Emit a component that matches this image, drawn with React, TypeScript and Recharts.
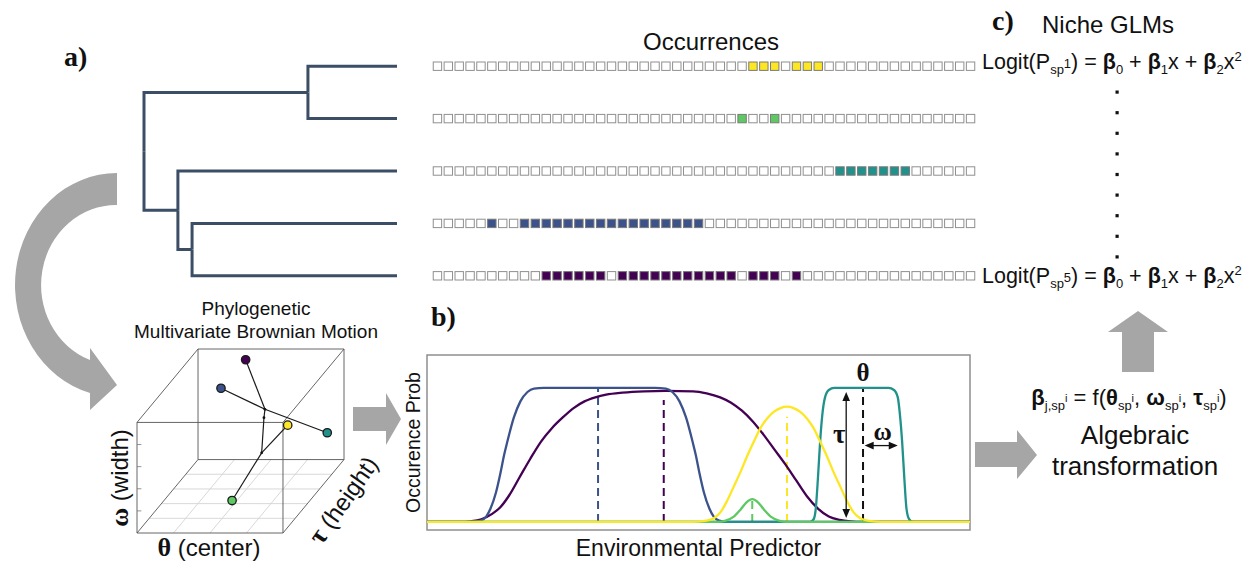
import React from 'react'
import {
  ComposedChart, LineChart, ScatterChart, Line, Scatter, XAxis, YAxis,
  ReferenceLine, ReferenceArea, ReferenceDot
} from 'recharts'

const SANS = '"Liberation Sans", Arial, Helvetica, sans-serif'
const SERIF = '"Liberation Serif", "Times New Roman", serif'
const GREY = '#a6a6a6'
const INK = '#111'

// species top to bottom (viridis)
const spColors = ['#fde725', '#5ec962', '#21918c', '#3b528b', '#440154']

// occupied bins (0..49) along the environmental gradient
const N_BINS = 50
const occ1 = [29, 30, 31, 33, 34, 35]
const occ2 = [28, 31]
const occ3 = [37, 38, 39, 40, 41, 42, 43]
const occ4 = [5, 8, 9, 10, 11, 12, 13, 14, 15, 16, 17, 18, 19, 20, 21, 22, 23, 24]
const occ5 = [10, 11, 12, 13, 14, 15, 17, 18, 19, 20, 21, 22, 23, 24, 25, 26, 27, 29, 30, 31, 33]
const occurrences = [occ1, occ2, occ3, occ4, occ5]

// phylogeny: node depth (0 root .. 1 tips), tips on rows 1..5
const nodeDepth: Record<string, number> = { root: 0, n1: 0.648, n2: 0.134, n3: 0.19, sp1: 1, sp2: 1, sp3: 1, sp4: 1, sp5: 1 }
const tipRow: Record<string, number> = { sp1: 1, sp2: 2, sp3: 3, sp4: 4, sp5: 5 }
const treeEdges: [string, string][] = [
  ['root', 'n1'], ['root', 'n2'], ['n1', 'sp1'], ['n1', 'sp2'],
  ['n2', 'sp3'], ['n2', 'n3'], ['n3', 'sp4'], ['n3', 'sp5'],
]

// niche curves: [predictor, occurrence prob]
const curvePurple = [[0, 0], [6, 0], [8, 0.005], [10, 0.02], [12, 0.06], [13.5, 0.11], [15, 0.19], [17, 0.33], [19, 0.47], [21, 0.6], [23, 0.7], [25, 0.78], [27, 0.85], [29, 0.9], [31, 0.93], [33, 0.95], [36, 0.965], [40, 0.975], [44, 0.978], [49, 0.975], [51.5, 0.96], [54, 0.93], [56, 0.89], [58, 0.83], [60, 0.75], [62, 0.65], [64, 0.54], [66, 0.43], [68, 0.31], [70, 0.19], [72, 0.1], [74, 0.04], [76, 0.015], [78, 0.004], [80, 0], [100, 0]]
const curveBlue = [[0, 0], [8.2, 0], [9.9, 0.01], [10.9, 0.04], [11.7, 0.1], [12.7, 0.22], [13.5, 0.36], [14.2, 0.5], [14.8, 0.6], [16, 0.78], [17.2, 0.9], [18.5, 0.97], [19.7, 0.995], [21.5, 1], [31.5, 1], [42, 1], [44, 0.995], [45.2, 0.97], [46.5, 0.9], [47.7, 0.78], [48.9, 0.6], [49.5, 0.5], [50.2, 0.36], [51, 0.22], [52, 0.1], [52.8, 0.04], [53.8, 0.01], [55.5, 0], [100, 0]]
const curveTeal = [[0, 0], [70.5, 0], [71.2, 0.02], [71.6, 0.1], [72, 0.33], [72.4, 0.6], [72.8, 0.8], [73.3, 0.93], [74, 0.985], [75, 1], [85, 1], [86, 0.985], [86.7, 0.93], [87.1, 0.8], [87.5, 0.6], [87.9, 0.33], [88.3, 0.1], [88.8, 0.02], [89.5, 0], [100, 0]]
const curveGreen = [[0, 0], [53.5, 0], [55, 0.01], [56.5, 0.04], [57.7, 0.09], [58.8, 0.145], [59.9, 0.17], [61, 0.145], [62.1, 0.09], [63.3, 0.04], [64.8, 0.01], [66.3, 0], [100, 0]]
const curveYellow = [[0, 0], [48.3, 0], [49.8, 0.002], [51.5, 0.01], [52.9, 0.03], [54.1, 0.075], [55.3, 0.16], [56.45, 0.26], [57.7, 0.37], [58.95, 0.49], [60.2, 0.6], [61.4, 0.7], [62.6, 0.77], [63.8, 0.82], [65.1, 0.85], [66.3, 0.86], [67.5, 0.85], [68.8, 0.82], [70, 0.77], [71.2, 0.7], [72.4, 0.6], [73.65, 0.49], [74.9, 0.37], [76.15, 0.26], [77.3, 0.16], [78.5, 0.075], [79.7, 0.03], [81.1, 0.01], [82.8, 0.002], [84.3, 0], [100, 0]]

// niche centres (theta) and the dashed marker height
const markX = [31.5, 43.6, 59.9, 66.3, 80.3]
const markTop = [1.0, 0.91, 0.17, 0.786, 1.0]
const markColor = ['#3b528b', '#440154', '#5ec962', '#fde725', INK]

// brownian motion in (theta, omega, tau) trait space
const bmTips = [
  { t: 0.907, w: 0.776, h: 0.3, color: '#fde725' },
  { t: 0.484, w: 0.028, h: 0.4, color: '#5ec962' },
  { t: 0.927, w: 0.309, h: 0.9, color: '#21918c' },
  { t: 0.241, w: 0.778, h: 0.8, color: '#3b528b' },
  { t: 0.368, w: 0.969, h: 0.9, color: '#440154' },
]
const bmNodes = [
  { t: 0.584, w: 0.654, h: 0.7 },
  { t: 0.598, w: 0.611, h: 0.65 },
  { t: 0.645, w: 0.393, h: 0.5 },
]
// paths through tips (T#) and nodes (N#)
const bmPaths = [['T4', 'N0'], ['T3', 'N0', 'T2'], ['N0', 'N1', 'N2'], ['N2', 'T0'], ['N2', 'T1']]

const DX = 0.418
const DY = 0.664
const proj = (t: number, w: number, h: number) => ({ x: t + DX * h, y: w + DY * h })

function nodeY(id: string): number {
  if (tipRow[id] !== undefined) return tipRow[id]
  const kids = treeEdges.filter(e => e[0] === id).map(e => nodeY(e[1]))
  return kids.reduce((a, b) => a + b, 0) / kids.length
}

const toPts = (arr: number[][]) => arr.map(([x, p]) => ({ x, p }))

function Arrow2(props: any) {
  const { x1, y1, x2, y2 } = props
  const len = Math.hypot(x2 - x1, y2 - y1) || 1
  const ux = (x2 - x1) / len
  const uy = (y2 - y1) / len
  const hl = 9
  const hw = 3.8
  const head = (x: number, y: number, dx: number, dy: number) =>
    `${x},${y} ${x - dx * hl - dy * hw},${y - dy * hl + dx * hw} ${x - dx * hl + dy * hw},${y - dy * hl - dx * hw}`
  return (
    <g>
      <line x1={x1 + ux * 4} y1={y1 + uy * 4} x2={x2 - ux * 4} y2={y2 - uy * 4} stroke={INK} strokeWidth={1.3} />
      <polygon points={head(x2, y2, ux, uy)} fill={INK} />
      <polygon points={head(x1, y1, -ux, -uy)} fill={INK} />
    </g>
  )
}

function TreeChart() {
  return (
    <LineChart width={273} height={262} margin={{ top: 0, right: 10, bottom: 0, left: 10 }}>
      <XAxis hide type="number" dataKey="x" domain={[0, 1]} />
      <YAxis hide type="number" domain={[0.5, 5.5]} reversed />
      {treeEdges.map(([p, c], i) => (
        <Line
          key={i}
          data={[
            { x: nodeDepth[p], y: nodeY(p) },
            { x: nodeDepth[p], y: nodeY(c) },
            { x: nodeDepth[c], y: nodeY(c) },
          ]}
          dataKey="y"
          type="linear"
          stroke="#3c4e65"
          strokeWidth={3}
          strokeLinejoin="miter"
          dot={false}
          isAnimationActive={false}
        />
      ))}
    </LineChart>
  )
}

function OccurrenceChart() {
  const cells = occurrences.flatMap((occ, r) =>
    Array.from({ length: N_BINS }, (_, i) => ({ bin: i, row: r + 1, on: occ.includes(i), color: spColors[r] }))
  )
  return (
    <ScatterChart width={564} height={262} margin={{ top: 0, right: 10, bottom: 0, left: 10 }}>
      <XAxis hide type="number" dataKey="bin" domain={[-0.5, N_BINS - 0.5]} />
      <YAxis hide type="number" dataKey="row" domain={[0.5, 5.5]} reversed />
      <Scatter
        data={cells}
        isAnimationActive={false}
        shape={(props: any) => {
          const { cx, cy, payload } = props
          const s = 8.4
          return (
            <rect
              x={cx - s / 2} y={cy - s / 2} width={s} height={s}
              fill={payload.on ? payload.color : '#fff'}
              stroke={payload.on ? '#7a7a7a' : '#8f8f8f'}
              strokeWidth={1}
            />
          )
        }}
      />
    </ScatterChart>
  )
}

function CubeChart() {
  const corners = [0, 1]
  const edges: { a: number[]; b: number[] }[] = []
  // 12 cube edges
  corners.forEach(h => {
    edges.push({ a: [0, 0, h], b: [1, 0, h] }, { a: [0, 1, h], b: [1, 1, h] })
    edges.push({ a: [0, 0, h], b: [0, 1, h] }, { a: [1, 0, h], b: [1, 1, h] })
  })
  corners.forEach(t => corners.forEach(w => edges.push({ a: [t, w, 0], b: [t, w, 1] })))
  const floor: { a: number[]; b: number[] }[] = []
  ;[0.25, 0.5, 0.75].forEach(t => floor.push({ a: [t, 0, 0], b: [t, 0, 1] }))
  ;[0.2, 0.4, 0.6, 0.8].forEach(h => floor.push({ a: [0, 0, h], b: [1, 0, h] }))
  const ticks = [0.2, 0.4, 0.6, 0.8].map(w => ({ a: [0, w, 0], b: [0.03, w, 0] }))
  const seg = (e: { a: number[]; b: number[] }) => [proj(e.a[0], e.a[1], e.a[2]), proj(e.b[0], e.b[1], e.b[2])]
  const pick = (k: string) => {
    const src = k[0] === 'T' ? bmTips[+k.slice(1)] : bmNodes[+k.slice(1)]
    return proj(src.t, src.w, src.h)
  }
  const tipPts = bmTips.map(p => ({ ...proj(p.t, p.w, p.h), color: p.color }))
  const nodePts = bmNodes.map(p => proj(p.t, p.w, p.h))
  return (
    <ComposedChart width={227} height={204} margin={{ top: 10, right: 10, bottom: 10, left: 10 }}>
      <XAxis hide type="number" dataKey="x" domain={[0, 1 + DX]} allowDataOverflow />
      <YAxis hide type="number" dataKey="y" domain={[0, 1 + DY]} allowDataOverflow />
      {floor.map((e, i) => (
        <ReferenceLine key={'f' + i} segment={seg(e)} stroke="#d4d4d4" strokeWidth={0.9} ifOverflow="visible" />
      ))}
      {edges.map((e, i) => (
        <ReferenceLine key={'e' + i} segment={seg(e)} stroke="#555" strokeWidth={0.9} ifOverflow="visible" />
      ))}
      {ticks.map((e, i) => (
        <ReferenceLine key={'t' + i} segment={seg(e)} stroke="#777" strokeWidth={0.8} ifOverflow="visible" />
      ))}
      {bmPaths.map((path, i) => (
        <Line
          key={'p' + i}
          data={path.map(pick)}
          dataKey="y"
          type="linear"
          stroke="#1a1a1a"
          strokeWidth={1.2}
          dot={false}
          isAnimationActive={false}
        />
      ))}
      <Scatter data={nodePts} isAnimationActive={false} shape={(p: any) => <circle cx={p.cx} cy={p.cy} r={1.4} fill="#111" />} />
      <Scatter
        data={tipPts}
        isAnimationActive={false}
        shape={(p: any) => <circle cx={p.cx} cy={p.cy} r={4.2} fill={p.payload.color} stroke="#1a1a1a" strokeWidth={1.3} />}
      />
    </ComposedChart>
  )
}

function NicheChart() {
  const curves = [
    { d: curvePurple, c: '#440154' },
    { d: curveBlue, c: '#3b528b' },
    { d: curveTeal, c: '#21918c' },
    { d: curveGreen, c: '#5ec962' },
    { d: curveYellow, c: '#fde725' },
  ]
  const yMin = -0.06
  const yMax = 1.246
  return (
    <LineChart width={580} height={220} margin={{ top: 10, right: 10, bottom: 0, left: 0 }}>
      <XAxis
        type="number" dataKey="x" domain={[0, 100]} allowDataOverflow
        tick={false} tickLine={false} axisLine={false} height={35}
        label={{ value: 'Environmental Predictor', position: 'center', fontSize: 23, fill: INK, fontFamily: SANS }}
      />
      <YAxis
        type="number" domain={[yMin, yMax]} allowDataOverflow
        tick={false} tickLine={false} axisLine={false} width={27}
        label={{ value: 'Occurence Prob', position: 'center', angle: -90, fontSize: 19.5, fill: INK, fontFamily: SANS }}
      />
      <ReferenceArea x1={0} x2={100} y1={yMin} y2={yMax} fill="none" stroke="#8f8f8f" strokeWidth={1.5} />
      {markX.map((x, i) => (
        <ReferenceLine
          key={'m' + i}
          segment={[{ x, y: 0 }, { x, y: markTop[i] }]}
          stroke={markColor[i]}
          strokeWidth={2}
          strokeDasharray="8 5"
        />
      ))}
      {curves.map((cv, i) => (
        <Line
          key={i}
          data={toPts(cv.d)}
          dataKey="p"
          type="monotone"
          stroke={cv.c}
          strokeWidth={2.3}
          dot={false}
          isAnimationActive={false}
        />
      ))}
      <ReferenceLine segment={[{ x: 77.2, y: 0.03 }, { x: 77.2, y: 0.97 }]} shape={Arrow2} />
      <ReferenceLine segment={[{ x: 80.6, y: 0.57 }, { x: 86.7, y: 0.57 }]} shape={Arrow2} />
      <ReferenceDot x={80.3} y={1.12} r={0} stroke="none" label={{ value: 'θ', position: 'center', fontSize: 25, fontWeight: 700, fontFamily: SERIF, fill: INK }} />
      <ReferenceDot x={75.9} y={0.66} r={0} stroke="none" label={{ value: 'τ', position: 'center', fontSize: 27, fontWeight: 700, fontFamily: SERIF, fill: INK }} />
      <ReferenceDot x={83.9} y={0.68} r={0} stroke="none" label={{ value: 'ω', position: 'center', fontSize: 25, fontWeight: 700, fontFamily: SERIF, fill: INK }} />
    </LineChart>
  )
}

function Logit({ y, n }: { y: number; n: string }) {
  return (
    <text x={982} y={y} fontSize={21.5} fontFamily={SANS} fill={INK}>
      <tspan>Logit(P</tspan>
      <tspan fontSize={13} dy={5}>sp</tspan>
      <tspan fontSize={13} dy={-6}>{n}</tspan>
      <tspan dy={1}>{') = '}</tspan>
      <tspan fontWeight={700}>β</tspan>
      <tspan fontSize={13} dy={5}>0</tspan>
      <tspan dy={-5}>{' + '}</tspan>
      <tspan fontWeight={700}>β</tspan>
      <tspan fontSize={13} dy={5}>1</tspan>
      <tspan dy={-5}>{'x + '}</tspan>
      <tspan fontWeight={700}>β</tspan>
      <tspan fontSize={13} dy={5}>2</tspan>
      <tspan dy={-5}>x</tspan>
      <tspan fontSize={13} dy={-8}>2</tspan>
    </text>
  )
}

function SpSub({ sym }: { sym: string }) {
  return (
    <>
      <tspan fontWeight={700}>{sym}</tspan>
      <tspan fontSize={13} dy={5}>sp</tspan>
      <tspan fontSize={11} dy={-8}>i</tspan>
    </>
  )
}

function Overlay() {
  const dots = Array.from({ length: 9 }, (_, i) => 92 + i * 20.6)
  return (
    <svg width={1243} height={565} style={{ position: 'absolute', left: 0, top: 0, pointerEvents: 'none' }}>
      {/* arrows */}
      <path d="M117,173 A102,112 0 0 0 90,393 L90,410 L117,385 L90,348 L90,360 A75,80 0 0 1 117,205 Z" fill={GREY} />
      <path d="M353,407 L386,407 L386,393 L401,419 L386,445 L386,431 L353,431 Z" fill={GREY} />
      <path d="M975,442 L1017,442 L1017,430 L1037,455 L1017,479 L1017,467 L975,467 Z" fill={GREY} />
      <path d="M1122,372 L1122,332 L1108,332 L1138,311 L1168,332 L1154,332 L1154,372 Z" fill={GREY} />

      {/* panel letters */}
      <text x={64} y={66} fontFamily={SERIF} fontWeight={700} fontSize={28} fill={INK}>a)</text>
      <text x={431} y={326} fontFamily={SERIF} fontWeight={700} fontSize={28} fill={INK}>b)</text>
      <text x={992} y={30} fontFamily={SERIF} fontWeight={700} fontSize={28} fill={INK}>c)</text>

      <g fontFamily={SANS} fill={INK}>
        <text x={711} y={50} fontSize={24} textAnchor="middle">Occurrences</text>
        <text x={1108} y={33} fontSize={24} textAnchor="middle">Niche GLMs</text>
        <text x={256} y={315} fontSize={19} textAnchor="middle">Phylogenetic</text>
        <text x={256} y={338} fontSize={19} textAnchor="middle">Multivariate Brownian Motion</text>

        <text x={209} y={556} fontSize={24} textAnchor="middle">
          <tspan fontFamily={SERIF} fontWeight={700} fontSize={26}>θ</tspan>
          <tspan>{' (center)'}</tspan>
        </text>
        <text transform="translate(119,478) rotate(-90)" fontSize={24} textAnchor="middle" dominantBaseline="central">
          <tspan fontFamily={SERIF} fontWeight={700} fontSize={26}>ω</tspan>
          <tspan>{' (width)'}</tspan>
        </text>
        <text transform="translate(343,500) rotate(-55)" fontSize={24} textAnchor="middle" dominantBaseline="central">
          <tspan fontFamily={SERIF} fontWeight={700} fontSize={27}>τ</tspan>
          <tspan>{' (height)'}</tspan>
        </text>

        <text x={1129} y={405} fontSize={22} textAnchor="middle">
          <tspan fontWeight={700}>β</tspan>
          <tspan fontSize={13} dy={5}>j,sp</tspan>
          <tspan fontSize={11} dy={-8}>i</tspan>
          <tspan dy={3}>{' = f('}</tspan>
          <SpSub sym="θ" />
          <tspan dy={3}>{', '}</tspan>
          <SpSub sym="ω" />
          <tspan dy={3}>{', '}</tspan>
          <SpSub sym="τ" />
          <tspan dy={3}>)</tspan>
        </text>
        <text x={1135} y={444} fontSize={26} textAnchor="middle">Algebraic</text>
        <text x={1135} y={475} fontSize={26} textAnchor="middle">transformation</text>
      </g>

      <Logit y={69} n="1" />
      <Logit y={283} n="5" />
      {dots.map((y, i) => (
        <rect key={i} x={1115.5} y={y - 1.5} width={3.2} height={3.2} fill={INK} />
      ))}
    </svg>
  )
}

export default function App() {
  return (
    <div style={{ position: 'absolute', left: 0, top: 0, width: 1243, height: 565, background: '#fff', fontFamily: SANS, overflow: 'hidden' }}>
      <div style={{ position: 'absolute', left: 134, top: 40 }}>
        <TreeChart />
      </div>
      <div style={{ position: 'absolute', left: 422, top: 40 }}>
        <OccurrenceChart />
      </div>
      <div style={{ position: 'absolute', left: 127, top: 339 }}>
        <CubeChart />
      </div>
      <div style={{ position: 'absolute', left: 400, top: 345 }}>
        <NicheChart />
      </div>
      <Overlay />
    </div>
  )
}
